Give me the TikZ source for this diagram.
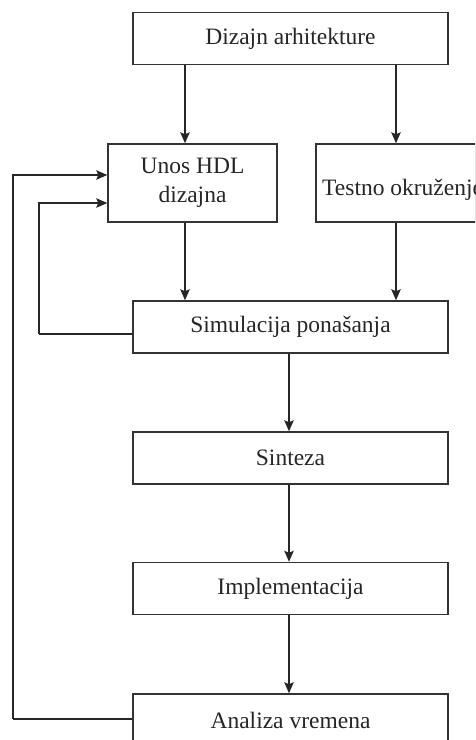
\documentclass[tikz,border=0pt]{standalone}
\usepackage{fontspec}
\setmainfont{Liberation Serif}
\usetikzlibrary{arrows.meta}
\begin{document}
\begin{tikzpicture}[x=1pt,y=-1pt,
  every node/.style={font=\fontsize{23.5}{29}\selectfont, text=black!85},
  stage/.style={draw=black!80, line width=1.5pt, fill=white, inner xsep=0pt,
    minimum height=52pt, align=center},
  arr/.style={draw=black!85, line width=1.3pt,
    -{Stealth[length=11pt,width=9.5pt,inset=2pt]}},
  wire/.style={draw=black!85, line width=1.3pt}]
  \useasboundingbox (0,0) rectangle (475,740);
  \clip (0,0) rectangle (475,740);

  % process stages
  \node[stage, minimum width=315pt] (arch) at (290.5,38.5) {Dizajn arhitekture};
  \node[stage, minimum width=169pt, minimum height=78pt] (hdl) at (192.5,183) {Unos HDL\\dizajna};
  \node[stage, minimum width=160pt, minimum height=78pt] (tb) at (396,183) {};
  \node[anchor=west, inner sep=0pt] (tbtext) at (322,190) {Testno okruženje};
  \node[stage, minimum width=315pt] (sim) at (290.5,327) {Simulacija ponašanja};
  \node[stage, minimum width=315pt] (syn) at (290.5,458) {Sinteza};
  \node[stage, minimum width=315pt] (impl) at (290.5,588.5) {Implementacija};
  \node[stage, minimum width=315pt] (sta) at (290.5,720) {Analiza vremena};

  % forward flow
  \draw[arr] (arch.south -| 185,0) -- (hdl.north -| 185,0);
  \draw[arr] (arch.south -| tb.north) -- (tb.north);
  \draw[arr] (hdl.south -| 185,0) -- (sim.north -| 185,0);
  \draw[arr] (tb.south) -- (sim.north -| tb.south);
  \draw[arr] (sim.south -| 289,0) -- (syn.north -| 289,0);
  \draw[arr] (syn.south -| 289,0) -- (impl.north -| 289,0);
  \draw[arr] (impl.south -| 289,0) -- (sta.north -| 289,0);

  % feedback loops back to the HDL entry
  \coordinate (simfb) at (39,334);
  \coordinate (stafb) at (13,719);
  \draw[wire] (sim.west |- simfb) -- (simfb);
  \draw[arr] (simfb) |- (hdl.west |- 0,203);
  \draw[wire] (sta.west |- stafb) -- (stafb);
  \draw[arr] (stafb) |- (hdl.west |- 0,175);
\end{tikzpicture}
\end{document}
